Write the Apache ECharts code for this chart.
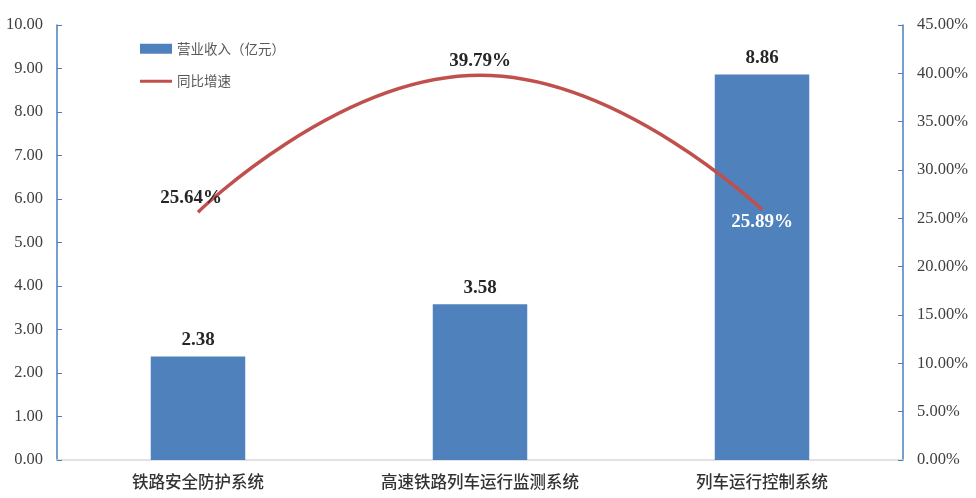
<!DOCTYPE html>
<html><head><meta charset="utf-8">
<script src="https://cdn.jsdelivr.net/npm/echarts@6/dist/echarts.min.js"></script>
<style>html,body{margin:0;padding:0;background:#fff}#c{width:976px;height:498px}</style>
</head><body><div id="c"></div>
<script>
const categories = ['铁路安全防护系统', '高速铁路列车运行监测系统', '列车运行控制系统'];
const revenue = [2.38, 3.58, 8.86];
const growth = [25.64, 39.79, 25.89];
const leftTicks = {min: 0, max: 10, interval: 1};
const rightTicks = {min: 0, max: 45, interval: 5};

const chart = echarts.init(document.getElementById('c'));
const serif = '"Liberation Serif", "Times New Roman", serif';
const growthData = growth.map((v, i) => i === growth.length - 1
  ? {value: v, label: {position: 'bottom', color: '#ffffff', distance: 3}}
  : {value: v});
chart.setOption({
  animation: false,
  grid: {left: 57, right: 73, top: 25, bottom: 38},
  legend: {
    orient: 'vertical', left: 135, top: 37, itemGap: 19, itemWidth: 32, itemHeight: 10,
    textStyle: {fontFamily: '"Noto Sans CJK SC"', fontSize: 13.5, color: '#595959'},
    data: [
      {name: '营业收入（亿元）', icon: 'rect'},
      {name: '同比增速', icon: 'path://M0,4 L32,4 L32,7 L0,7 Z'}
    ]
  },
  xAxis: {
    type: 'category', data: categories,
    axisLine: {lineStyle: {color: '#d9d9d9', width: 1.5}},
    axisTick: {show: false},
    axisLabel: {fontFamily: '"Noto Sans CJK SC"', fontSize: 16.5, fontWeight: 500, color: '#333333', margin: 13}
  },
  yAxis: [
    {
      type: 'value', min: leftTicks.min, max: leftTicks.max, interval: leftTicks.interval,
      axisLine: {show: true, lineStyle: {color: '#4a7ebb', width: 1.5}},
      axisTick: {show: true, inside: true, length: 5, lineStyle: {color: '#4a7ebb'}},
      splitLine: {show: false},
      axisLabel: {formatter: v => v.toFixed(2), fontFamily: serif, fontSize: 16.5, color: '#404040', margin: 14}
    },
    {
      type: 'value', position: 'right', min: rightTicks.min, max: rightTicks.max, interval: rightTicks.interval,
      axisLine: {show: true, lineStyle: {color: '#4a7ebb', width: 1.5}},
      axisTick: {show: true, inside: true, length: 5, lineStyle: {color: '#4a7ebb'}},
      splitLine: {show: false},
      axisLabel: {formatter: v => v.toFixed(2) + '%', fontFamily: serif, fontSize: 16.5, color: '#404040', margin: 14}
    }
  ],
  series: [
    {
      name: '营业收入（亿元）', type: 'bar', data: revenue, barWidth: '33.5%',
      itemStyle: {color: '#4f81bd'},
      label: {show: true, position: 'top', formatter: p => p.value.toFixed(2), fontFamily: serif, fontSize: 19, fontWeight: 'bold', color: '#262626', distance: 7}
    },
    {
      name: '同比增速', type: 'line', yAxisIndex: 1, data: growthData, smooth: 0.5,
      symbol: 'circle', symbolSize: 0.1, showSymbol: true,
      lineStyle: {color: '#c0504d', width: 3.5}, itemStyle: {color: '#c0504d'},
      label: {show: true, position: 'top', formatter: p => p.value.toFixed(2) + '%', fontFamily: serif, fontSize: 19, fontWeight: 'bold', color: '#262626', distance: 5},
      labelLayout: p => (p.dataIndex === 0 ? {dx: -7, hideOverlap: false} : {hideOverlap: false})
    }
  ]
});
</script></body></html>
